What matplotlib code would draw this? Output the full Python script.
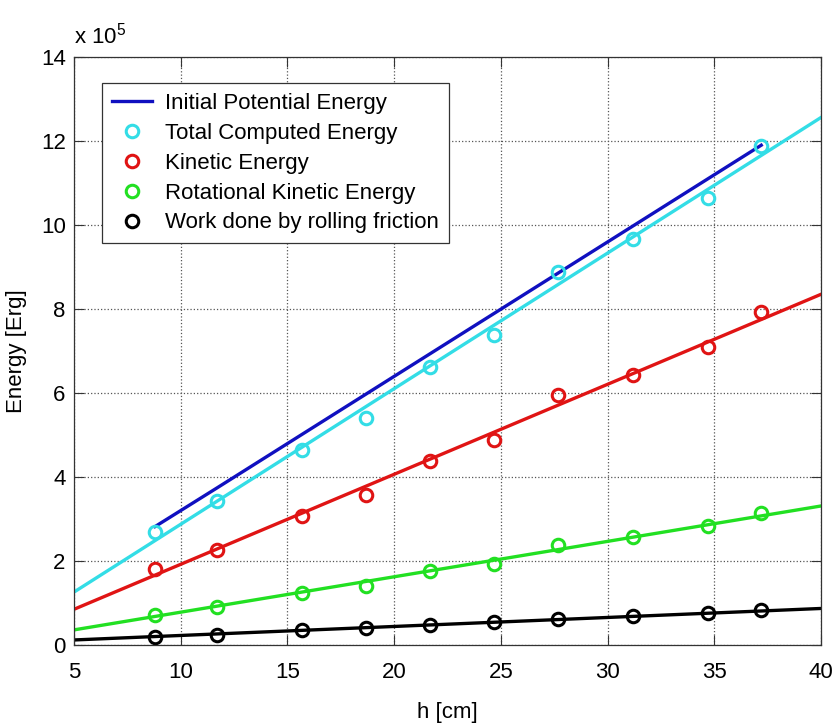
import numpy as np
import matplotlib.pyplot as plt

plt.rcParams['font.family'] = ['Liberation Sans', 'DejaVu Sans']
plt.rcParams['mathtext.fontset'] = 'custom'
plt.rcParams['mathtext.rm'] = 'Liberation Sans'

# measured heights [cm]
h = [8.8, 11.7, 15.7, 18.7, 21.7, 24.7, 27.7, 31.2, 34.7, 37.2]

# energies in units of 1e5 Erg
pot_energy = [2.82, 3.74, 5.02, 5.98, 6.94, 7.90, 8.86, 9.98, 11.10, 11.90]
total_energy = [2.70, 3.44, 4.64, 5.40, 6.61, 7.37, 8.89, 9.66, 10.65, 11.87]
kin_energy = [1.80, 2.27, 3.08, 3.57, 4.38, 4.88, 5.95, 6.42, 7.09, 7.92]
rot_energy = [0.71, 0.91, 1.24, 1.41, 1.76, 1.94, 2.37, 2.57, 2.83, 3.14]
friction_work = [0.18, 0.25, 0.36, 0.41, 0.47, 0.55, 0.61, 0.69, 0.77, 0.83]

# linear fit lines (end points)
fit_h = [5, 40]
fit_total = [1.26, 12.56]
fit_kin = [0.85, 8.35]
fit_rot = [0.36, 3.31]
fit_fric = [0.12, 0.87]

c_blue = '#1010c0'
c_cyan = '#33dde6'
c_red = '#e01414'
c_green = '#22e022'
c_black = '#000000'

fig = plt.figure(figsize=(8.33, 7.25), dpi=100)
ax = fig.add_axes([74/833, 1-645/725, (821-74)/833, (645-57)/725])

lw = 2.4
ms = 9
mew = 2.2

ax.plot(h, pot_energy, '-', color=c_blue, lw=lw, label='Initial Potential Energy')
ax.plot(h, total_energy, 'o', color=c_cyan, ms=ms, mew=mew, mfc='none', label='Total Computed Energy')
ax.plot(h, kin_energy, 'o', color=c_red, ms=ms, mew=mew, mfc='none', label='Kinetic Energy')
ax.plot(h, rot_energy, 'o', color=c_green, ms=ms, mew=mew, mfc='none', label='Rotational Kinetic Energy')
ax.plot(h, friction_work, 'o', color=c_black, ms=ms, mew=mew, mfc='none', label='Work done by rolling friction')

ax.plot(fit_h, fit_total, '-', color=c_cyan, lw=lw)
ax.plot(fit_h, fit_kin, '-', color=c_red, lw=lw)
ax.plot(fit_h, fit_rot, '-', color=c_green, lw=lw)
ax.plot(fit_h, fit_fric, '-', color=c_black, lw=lw)

ax.set_xlim(5, 40)
ax.set_ylim(0, 14)
ax.set_xticks(np.arange(5, 41, 5))
ax.set_yticks(np.arange(0, 15, 2))
ax.tick_params(direction='in', top=True, right=True, length=7, labelsize=16, color='#333333')
ax.tick_params(axis='x', pad=12)
ax.tick_params(axis='y', pad=6)
ax.grid(True, linestyle=':', color='#555555', linewidth=0.9)
for s in ax.spines.values():
    s.set_color('#333333')
    s.set_linewidth(0.9)

ax.set_xlabel('h [cm]', fontsize=16, labelpad=14)
ax.set_ylabel('Energy [Erg]', fontsize=16, labelpad=10)
ax.text(0.0, 1.015, r'x 10$^{5}$', transform=ax.transAxes, fontsize=16, ha='left', va='bottom')

leg = ax.legend(loc='upper left', bbox_to_anchor=(0.0375, 0.956), borderaxespad=0, fontsize=16,
                fancybox=False, framealpha=1, edgecolor='#333333', handlelength=1.8,
                handletextpad=0.6, labelspacing=0.4, borderpad=0.45)
leg.get_frame().set_linewidth(0.9)

fig.savefig('out.png', dpi=100)
